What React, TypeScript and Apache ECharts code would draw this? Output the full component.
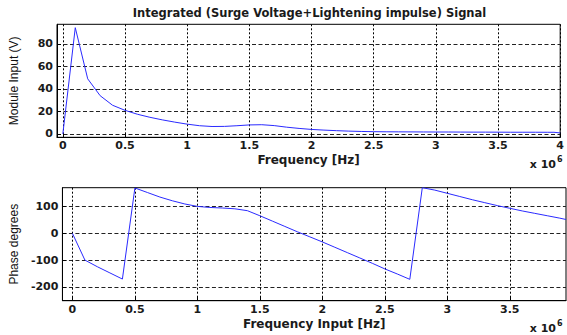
import React, { useEffect, useRef } from "react";
import * as echarts from "echarts";

// ---- data (x in units of 1e6 Hz) ----
const magFreq = [0, 0.1, 0.2, 0.3, 0.4, 0.5, 0.6, 0.7, 0.8, 0.9, 1.0, 1.1, 1.2, 1.3, 1.4, 1.5, 1.6, 1.7, 1.8, 1.9, 2.0, 2.1, 2.2, 2.3, 2.4, 2.5, 2.6, 2.7, 2.8, 2.9, 3.0, 3.1, 3.2, 3.3, 3.4, 3.5, 3.6, 3.7, 3.8, 3.9, 3.95, 4.0];
const magValues = [0, 94.5, 49, 34, 25.5, 21, 17.5, 14.8, 12.5, 10.5, 8.7, 7.3, 6.6, 6.7, 7.3, 8.0, 8.2, 7.4, 6.0, 4.9, 4.0, 3.4, 2.9, 2.5, 2.2, 2.0, 1.9, 1.85, 1.8, 1.75, 1.7, 1.7, 1.65, 1.6, 1.6, 1.55, 1.5, 1.5, 1.5, 1.45, 1.45, 0.9];

const phaseFreq = [0, 0.1, 0.2, 0.3, 0.4, 0.5, 0.6, 0.7, 0.8, 0.9, 1.0, 1.1, 1.2, 1.3, 1.4, 1.5, 1.6, 1.7, 1.8, 1.9, 2.0, 2.1, 2.2, 2.3, 2.4, 2.5, 2.6, 2.7, 2.8, 2.9, 3.0, 3.1, 3.2, 3.3, 3.4, 3.5, 3.6, 3.7, 3.8, 3.9, 3.95];
const phaseValues = [0, -100, -125, -148, -171, 170, 153, 136, 122, 110, 101, 97, 95, 92, 85, 66, 46, 26, 6, -13, -32, -52, -72, -92, -112, -133, -152, -172, 171, 162, 150, 138, 126, 115, 104, 94, 84, 75, 66, 57, 52];

const magXTicks = [0, 0.5, 1, 1.5, 2, 2.5, 3, 3.5, 4];
const magYTicks = [0, 20, 40, 60, 80];
const phaseXTicks = [0, 0.5, 1, 1.5, 2, 2.5, 3, 3.5];
const phaseYTicks = [-200, -100, 0, 100];

const titleText = "Integrated (Surge Voltage+Lightening impulse) Signal";

export default function App() {
  const ref = useRef<HTMLDivElement>(null);
  useEffect(() => {
    document.body.style.margin = "0";
    const chart = echarts.init(ref.current!, null, { renderer: "svg" });
    const labelStyle = {
      fontFamily: "DejaVu Sans",
      fontWeight: "bold" as const,
      fontSize: 11,
      color: "#1a1a1a",
    };
    const xAxisCommon = (min: number, max: number, ticks: number[], name: string, gridIndex: number) => ({
      type: "value" as const,
      gridIndex,
      min,
      max,
      name,
      nameLocation: "middle" as const,
      nameGap: 17,
      nameTextStyle: { fontFamily: "DejaVu Sans", fontWeight: "bold" as const, fontSize: 12, color: "#1a1a1a" },
      axisLine: { onZero: false, lineStyle: { color: "#000", width: 1 } },
      axisTick: { show: true, inside: true, length: 4, customValues: ticks, lineStyle: { color: "#000" } },
      axisLabel: { ...labelStyle, margin: 3, customValues: ticks, formatter: (v: number) => String(v) },
      splitLine: { show: true, lineStyle: { color: "#000", type: [2, 2] as any, width: 1 } },
    });
    const yAxisCommon = (min: number, max: number, ticks: number[], name: string, gridIndex: number, gap: number) => ({
      type: "value" as const,
      gridIndex,
      min,
      max,
      name,
      nameLocation: "middle" as const,
      nameGap: gap,
      nameTextStyle: { fontFamily: "Liberation Sans", fontSize: 12, color: "#111" },
      axisLine: { show: true, onZero: false, lineStyle: { color: "#000", width: 1 } },
      axisTick: { show: true, inside: true, length: 4, customValues: ticks, lineStyle: { color: "#000" } },
      axisLabel: { ...labelStyle, margin: 4, customValues: ticks },
      splitLine: { show: true, lineStyle: { color: "#222", type: [4, 2.5] as any, width: 1 } },
    });
    chart.setOption({
      animation: false,
      backgroundColor: "#fff",
      grid: [
        { left: 53.3, right: 1.3, top: 24.3, height: 113, show: true, borderColor: "#000", borderWidth: 1, containLabel: false },
        { left: 53.3, right: 1, top: 187.7, height: 113, show: true, borderColor: "#000", borderWidth: 1, containLabel: false },
      ],
      xAxis: [
        xAxisCommon(-0.047, 4, magXTicks, "Frequency [Hz]", 0),
        xAxisCommon(-0.08, 3.95, phaseXTicks, "Frequency Input [Hz]", 1),
      ],
      yAxis: [
        yAxisCommon(-3, 97.5, magYTicks, "Module Input (V)", 0, 37),
        yAxisCommon(-252, 171, phaseYTicks, "Phase degrees", 1, 32),
      ],
      series: [
        {
          type: "line",
          xAxisIndex: 0,
          yAxisIndex: 0,
          data: magFreq.map((f, i) => [f, magValues[i]]),
          showSymbol: false,
          lineStyle: { color: "#2a2aff", width: 1 },
          itemStyle: { color: "#2a2aff" },
        },
        {
          type: "line",
          xAxisIndex: 1,
          yAxisIndex: 1,
          data: phaseFreq.map((f, i) => [f, phaseValues[i]]),
          showSymbol: false,
          lineStyle: { color: "#2a2aff", width: 1 },
          itemStyle: { color: "#2a2aff" },
        },
      ],
      graphic: [
        {
          type: "text",
          x: 309.5,
          y: 13,
          style: { text: titleText, fontFamily: "DejaVu Sans", fontWeight: "bold", fontSize: 11.5, fill: "#1a1a1a", textAlign: "center", textVerticalAlign: "middle" },
        },
        {
          type: "text",
          x: 556,
          y: 164,
          style: { text: "x 10", fontFamily: "DejaVu Sans", fontWeight: "bold", fontSize: 11, fill: "#1a1a1a", textAlign: "right", textVerticalAlign: "middle" },
        },
        {
          type: "text",
          x: 557,
          y: 159,
          style: { text: "6", fontFamily: "DejaVu Sans", fontWeight: "bold", fontSize: 8, fill: "#1a1a1a", textAlign: "left", textVerticalAlign: "middle" },
        },
        {
          type: "text",
          x: 556,
          y: 328,
          style: { text: "x 10", fontFamily: "DejaVu Sans", fontWeight: "bold", fontSize: 11, fill: "#1a1a1a", textAlign: "right", textVerticalAlign: "middle" },
        },
        {
          type: "text",
          x: 557,
          y: 323,
          style: { text: "6", fontFamily: "DejaVu Sans", fontWeight: "bold", fontSize: 8, fill: "#1a1a1a", textAlign: "left", textVerticalAlign: "middle" },
        },
      ],
    });
    return () => chart.dispose();
  }, []);
  return <div ref={ref} style={{ width: 567, height: 335 }} />;
}
